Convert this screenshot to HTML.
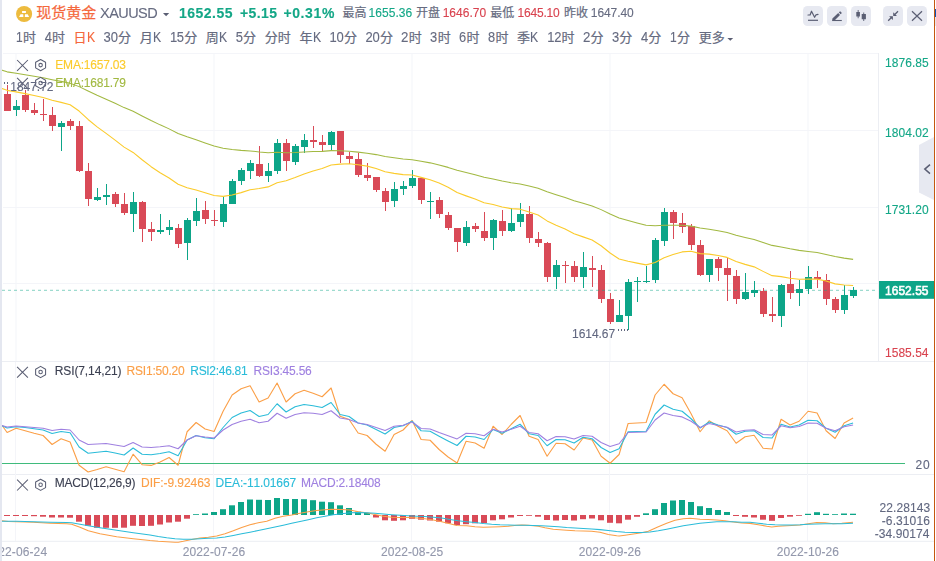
<!DOCTYPE html>
<html lang="zh"><head><meta charset="utf-8"><title>现货黄金 XAUUSD</title>
<style>
html,body{margin:0;padding:0;background:#fff}
body{width:936px;height:561px;position:relative;overflow:hidden;font-family:"Liberation Sans",sans-serif}
svg{position:absolute;left:0;top:0}
svg text{font-family:"Liberation Sans","Noto Sans CJK SC",sans-serif}
#lb{position:absolute;left:0;top:0;width:2px;height:561px;background:#e4e7f0}
#tx{position:absolute;left:0;top:0;width:936px;height:561px;will-change:transform}
.t{position:absolute;white-space:nowrap;line-height:1;display:block;font-kerning:none;-webkit-text-stroke:0.12px;transform:scaleY(1.065);transform-origin:0 10px}
</style></head><body>
<svg width="936" height="561" viewBox="0 0 936 561">
<rect x="3" y="53.0" width="876" height="1" fill="#f4f5f9"/>
<rect x="3" y="130.0" width="876" height="1" fill="#f4f5f9"/>
<rect x="3" y="207.0" width="876" height="1" fill="#f4f5f9"/>
<rect x="3" y="283.0" width="876" height="1" fill="#f4f5f9"/>
<rect x="2" y="361.0" width="932" height="1" fill="#eceef3"/>
<rect x="2" y="474.0" width="932" height="1" fill="#eceef3"/>
<rect x="2" y="540.8" width="932" height="1" fill="#eceef3"/>
<rect x="878" y="53" width="1" height="308" fill="#eceef3"/>
<rect x="15.5" y="54" width="1" height="307" fill="#f4f5f9"/>
<rect x="15" y="362" width="1" height="179" fill="#f4f5f9"/>
<rect x="213.5" y="54" width="1" height="307" fill="#f4f5f9"/>
<rect x="213" y="362" width="1" height="179" fill="#f4f5f9"/>
<rect x="411.5" y="54" width="1" height="307" fill="#f4f5f9"/>
<rect x="411" y="362" width="1" height="179" fill="#f4f5f9"/>
<rect x="609.5" y="54" width="1" height="307" fill="#f4f5f9"/>
<rect x="609" y="362" width="1" height="179" fill="#f4f5f9"/>
<rect x="807.5" y="54" width="1" height="307" fill="#f4f5f9"/>
<rect x="807" y="362" width="1" height="179" fill="#f4f5f9"/>
<g fill="#d94a57"><rect x="7" y="85" width="1" height="26"/><rect x="4" y="94" width="7" height="17"/><rect x="25" y="90" width="1" height="22"/><rect x="22" y="95" width="7" height="15"/><rect x="34" y="103" width="1" height="12"/><rect x="31" y="110" width="7" height="3"/><rect x="43" y="99" width="1" height="22"/><rect x="40" y="114" width="7" height="1"/><rect x="52" y="107" width="1" height="24"/><rect x="49" y="115" width="7" height="11"/><rect x="70" y="119" width="1" height="11"/><rect x="67" y="121" width="7" height="5"/><rect x="79" y="121" width="1" height="51"/><rect x="76" y="126" width="7" height="45"/><rect x="88" y="163" width="1" height="43"/><rect x="85" y="171" width="7" height="28"/><rect x="115" y="192" width="1" height="15"/><rect x="112" y="194" width="7" height="10"/><rect x="124" y="193" width="1" height="22"/><rect x="121" y="204" width="7" height="9"/><rect x="142" y="201" width="1" height="41"/><rect x="139" y="202" width="7" height="27"/><rect x="151" y="222" width="1" height="19"/><rect x="148" y="229" width="7" height="3"/><rect x="178" y="224" width="1" height="24"/><rect x="175" y="228" width="7" height="16"/><rect x="205" y="201" width="1" height="23"/><rect x="202" y="210" width="7" height="9"/><rect x="214" y="210" width="1" height="16"/><rect x="211" y="220" width="7" height="1"/><rect x="259" y="146" width="1" height="31"/><rect x="256" y="164" width="7" height="12"/><rect x="286" y="139" width="1" height="32"/><rect x="283" y="143" width="7" height="18"/><rect x="313" y="126" width="1" height="22"/><rect x="310" y="140" width="7" height="2"/><rect x="322" y="135" width="1" height="17"/><rect x="319" y="142" width="7" height="3"/><rect x="340" y="131" width="1" height="32"/><rect x="337" y="131" width="7" height="24"/><rect x="349" y="152" width="1" height="12"/><rect x="346" y="156" width="7" height="3"/><rect x="358" y="153" width="1" height="24"/><rect x="355" y="159" width="7" height="16"/><rect x="367" y="163" width="1" height="18"/><rect x="364" y="175" width="7" height="3"/><rect x="376" y="177" width="1" height="15"/><rect x="373" y="177" width="7" height="13"/><rect x="385" y="188" width="1" height="23"/><rect x="382" y="191" width="7" height="11"/><rect x="421" y="178" width="1" height="26"/><rect x="418" y="178" width="7" height="22"/><rect x="439" y="197" width="1" height="21"/><rect x="436" y="200" width="7" height="14"/><rect x="448" y="212" width="1" height="18"/><rect x="445" y="215" width="7" height="13"/><rect x="457" y="228" width="1" height="24"/><rect x="454" y="228" width="7" height="14"/><rect x="475" y="223" width="1" height="9"/><rect x="472" y="226" width="7" height="3"/><rect x="484" y="212" width="1" height="29"/><rect x="481" y="231" width="7" height="7"/><rect x="502" y="210" width="1" height="26"/><rect x="499" y="221" width="7" height="10"/><rect x="529" y="206" width="1" height="37"/><rect x="526" y="214" width="7" height="24"/><rect x="538" y="232" width="1" height="15"/><rect x="535" y="239" width="7" height="4"/><rect x="547" y="242" width="1" height="40"/><rect x="544" y="243" width="7" height="34"/><rect x="565" y="261" width="1" height="22"/><rect x="562" y="265" width="7" height="1"/><rect x="574" y="261" width="1" height="21"/><rect x="571" y="266" width="7" height="11"/><rect x="592" y="256" width="1" height="31"/><rect x="589" y="268" width="7" height="2"/><rect x="601" y="265" width="1" height="38"/><rect x="598" y="270" width="7" height="29"/><rect x="610" y="293" width="1" height="31"/><rect x="607" y="299" width="7" height="23"/><rect x="673" y="210" width="1" height="29"/><rect x="670" y="212" width="7" height="11"/><rect x="682" y="213" width="1" height="20"/><rect x="679" y="223" width="7" height="4"/><rect x="691" y="224" width="1" height="26"/><rect x="688" y="226" width="7" height="19"/><rect x="700" y="240" width="1" height="36"/><rect x="697" y="245" width="7" height="30"/><rect x="718" y="257" width="1" height="24"/><rect x="715" y="259" width="7" height="9"/><rect x="727" y="258" width="1" height="43"/><rect x="724" y="268" width="7" height="7"/><rect x="736" y="270" width="1" height="34"/><rect x="733" y="276" width="7" height="23"/><rect x="763" y="288" width="1" height="29"/><rect x="760" y="291" width="7" height="23"/><rect x="772" y="297" width="1" height="25"/><rect x="769" y="314" width="7" height="2"/><rect x="790" y="271" width="1" height="28"/><rect x="787" y="284" width="7" height="9"/><rect x="817" y="271" width="1" height="17"/><rect x="814" y="277" width="7" height="2"/><rect x="826" y="274" width="1" height="31"/><rect x="823" y="280" width="7" height="19"/><rect x="835" y="297" width="1" height="16"/><rect x="832" y="299" width="7" height="11"/></g>
<g fill="#0da588"><rect x="16" y="100" width="1" height="16"/><rect x="13" y="106" width="7" height="4"/><rect x="61" y="121" width="1" height="30"/><rect x="58" y="123" width="7" height="4"/><rect x="97" y="188" width="1" height="13"/><rect x="94" y="197" width="7" height="3"/><rect x="106" y="184" width="1" height="21"/><rect x="103" y="195" width="7" height="2"/><rect x="133" y="192" width="1" height="40"/><rect x="130" y="202" width="7" height="12"/><rect x="160" y="214" width="1" height="20"/><rect x="157" y="230" width="7" height="2"/><rect x="169" y="220" width="1" height="15"/><rect x="166" y="227" width="7" height="3"/><rect x="187" y="218" width="1" height="42"/><rect x="184" y="220" width="7" height="23"/><rect x="196" y="198" width="1" height="28"/><rect x="193" y="211" width="7" height="10"/><rect x="223" y="197" width="1" height="30"/><rect x="220" y="204" width="7" height="18"/><rect x="232" y="179" width="1" height="25"/><rect x="229" y="181" width="7" height="23"/><rect x="241" y="168" width="1" height="17"/><rect x="238" y="170" width="7" height="11"/><rect x="250" y="160" width="1" height="19"/><rect x="247" y="163" width="7" height="8"/><rect x="268" y="163" width="1" height="19"/><rect x="265" y="171" width="7" height="5"/><rect x="277" y="139" width="1" height="35"/><rect x="274" y="143" width="7" height="28"/><rect x="295" y="144" width="1" height="21"/><rect x="292" y="146" width="7" height="16"/><rect x="304" y="134" width="1" height="19"/><rect x="301" y="140" width="7" height="7"/><rect x="331" y="131" width="1" height="19"/><rect x="328" y="132" width="7" height="13"/><rect x="394" y="182" width="1" height="25"/><rect x="391" y="189" width="7" height="12"/><rect x="403" y="181" width="1" height="14"/><rect x="400" y="186" width="7" height="3"/><rect x="412" y="170" width="1" height="18"/><rect x="409" y="178" width="7" height="8"/><rect x="430" y="192" width="1" height="27"/><rect x="427" y="201" width="7" height="1"/><rect x="466" y="221" width="1" height="25"/><rect x="463" y="227" width="7" height="16"/><rect x="493" y="219" width="1" height="31"/><rect x="490" y="220" width="7" height="18"/><rect x="511" y="208" width="1" height="24"/><rect x="508" y="223" width="7" height="8"/><rect x="520" y="203" width="1" height="24"/><rect x="517" y="214" width="7" height="8"/><rect x="556" y="260" width="1" height="29"/><rect x="553" y="265" width="7" height="12"/><rect x="583" y="252" width="1" height="36"/><rect x="580" y="267" width="7" height="10"/><rect x="619" y="300" width="1" height="22"/><rect x="616" y="315" width="7" height="7"/><rect x="628" y="279" width="1" height="51"/><rect x="625" y="282" width="7" height="34"/><rect x="637" y="277" width="1" height="25"/><rect x="634" y="281" width="7" height="1"/><rect x="646" y="266" width="1" height="17"/><rect x="643" y="281" width="7" height="1"/><rect x="655" y="238" width="1" height="45"/><rect x="652" y="240" width="7" height="40"/><rect x="664" y="208" width="1" height="38"/><rect x="661" y="212" width="7" height="29"/><rect x="709" y="259" width="1" height="23"/><rect x="706" y="259" width="7" height="16"/><rect x="745" y="273" width="1" height="27"/><rect x="742" y="292" width="7" height="7"/><rect x="754" y="281" width="1" height="16"/><rect x="751" y="290" width="7" height="3"/><rect x="781" y="284" width="1" height="43"/><rect x="778" y="285" width="7" height="31"/><rect x="799" y="280" width="1" height="26"/><rect x="796" y="289" width="7" height="4"/><rect x="808" y="266" width="1" height="28"/><rect x="805" y="277" width="7" height="12"/><rect x="844" y="285" width="1" height="29"/><rect x="841" y="295" width="7" height="15"/><rect x="853" y="287" width="1" height="11"/><rect x="850" y="290" width="7" height="6"/></g>
<polyline points="-1.90,69.00 7.10,71.86 16.10,73.22 25.10,74.68 34.10,76.21 43.10,77.75 52.10,79.66 61.10,81.38 70.10,83.15 79.10,86.62 88.10,91.04 97.10,95.22 106.10,99.15 115.10,103.28 124.10,107.61 133.10,111.33 142.10,115.96 151.10,120.53 160.10,124.85 169.10,128.87 178.10,133.41 187.10,136.83 196.10,139.75 205.10,142.88 214.10,145.97 223.10,148.26 232.10,149.57 241.10,150.39 250.10,150.90 259.10,151.91 268.10,152.68 277.10,152.32 286.10,152.68 295.10,152.44 304.10,151.97 313.10,151.60 322.10,151.36 331.10,150.62 340.10,150.81 349.10,151.16 358.10,152.11 367.10,153.15 376.10,154.61 385.10,156.49 394.10,157.79 403.10,158.91 412.10,159.68 421.10,161.28 430.10,162.86 439.10,164.89 448.10,167.38 457.10,170.33 466.10,172.57 475.10,174.81 484.10,177.30 493.10,179.00 502.10,181.06 511.10,182.72 520.10,183.97 529.10,186.11 538.10,188.36 547.10,191.86 556.10,194.75 565.10,197.56 574.10,200.70 583.10,203.32 592.10,205.95 601.10,209.62 610.10,214.05 619.10,218.03 628.10,220.56 637.10,222.95 646.10,225.25 655.10,225.84 664.10,225.32 673.10,225.25 682.10,225.34 691.10,226.13 700.10,228.07 709.10,229.30 718.10,230.84 727.10,232.59 736.10,235.22 745.10,237.46 754.10,239.54 763.10,242.48 772.10,245.39 781.10,246.96 790.10,248.79 799.10,250.38 808.10,251.45 817.10,252.55 826.10,254.39 835.10,256.59 844.10,258.12 853.10,259.39" fill="none" stroke="#a2b942" stroke-width="1.05" stroke-linejoin="round" />
<polyline points="-1.90,87.30 7.10,90.35 16.10,91.88 25.10,93.65 34.10,95.53 43.10,97.42 52.10,100.19 61.10,102.40 70.10,104.69 79.10,111.04 88.10,119.46 97.10,126.88 106.10,133.41 115.10,140.17 124.10,147.15 133.10,152.41 142.10,159.75 151.10,166.67 160.10,172.74 169.10,177.95 178.10,184.28 187.10,187.72 196.10,189.98 205.10,192.78 214.10,195.51 223.10,196.36 232.10,194.94 241.10,192.60 250.10,189.82 259.10,188.54 268.10,186.91 277.10,182.77 286.10,180.74 295.10,177.47 304.10,173.94 313.10,170.94 322.10,168.51 331.10,165.07 340.10,164.15 349.10,163.70 358.10,164.82 367.10,166.11 376.10,168.43 385.10,171.67 394.10,173.36 403.10,174.60 412.10,174.96 421.10,177.39 430.10,179.68 439.10,182.99 448.10,187.31 457.10,192.56 466.10,195.88 475.10,199.08 484.10,202.82 493.10,204.50 502.10,207.06 511.10,208.62 520.10,209.17 529.10,211.96 538.10,214.95 547.10,220.90 556.10,225.14 565.10,229.07 574.10,233.68 583.10,236.89 592.10,240.09 601.10,245.74 610.10,253.04 619.10,258.98 628.10,261.21 637.10,263.14 646.10,264.88 655.10,262.55 664.10,257.77 673.10,254.50 682.10,251.92 691.10,251.30 700.10,253.60 709.10,254.16 718.10,255.51 727.10,257.41 736.10,261.41 745.10,264.36 754.10,266.85 763.10,271.38 772.10,275.67 781.10,276.60 790.10,278.20 799.10,279.27 808.10,279.09 817.10,279.12 826.10,281.06 835.10,283.85 844.10,284.95 853.10,285.47" fill="none" stroke="#fbcb2c" stroke-width="1.1" stroke-linejoin="round" />
<line x1="2" y1="290.3" x2="878" y2="290.3" stroke="#0da588" stroke-opacity="0.5" stroke-width="1" stroke-dasharray="3 3"/>
<line x1="4" y1="83" x2="9" y2="83" stroke="#626880" stroke-width="2" stroke-dasharray="1 2"/>
<line x1="618" y1="330" x2="628" y2="330" stroke="#626880" stroke-width="2" stroke-dasharray="1 2"/>
<rect x="879" y="281" width="55" height="17.8" fill="#0da588"/>
<line x1="2" y1="463.5" x2="905" y2="463.5" stroke="#3fbb7c" stroke-width="1.2"/>
<polyline points="2.00,425.30 7.10,432.50 16.10,428.30 25.10,430.70 34.10,433.30 43.10,435.50 52.10,444.50 61.10,438.80 70.10,442.00 79.10,465.30 88.10,472.00 97.10,469.50 106.10,466.70 115.10,469.20 124.10,471.70 133.10,454.20 142.10,464.70 151.10,465.40 160.10,462.00 169.10,457.50 178.10,465.25 187.10,431.75 196.10,422.50 205.10,429.00 214.10,431.50 223.10,411.25 232.10,395.00 241.10,388.75 250.10,385.75 259.10,402.00 268.10,398.00 277.10,383.00 286.10,402.00 295.10,393.75 304.10,390.25 313.10,393.25 322.10,396.75 331.10,388.00 340.10,416.25 349.10,419.50 358.10,433.00 367.10,435.50 376.10,444.25 385.10,451.25 394.10,434.50 403.10,430.00 412.10,420.50 421.10,439.50 430.10,440.25 439.10,449.50 448.10,457.00 457.10,463.00 466.10,441.25 475.10,443.00 484.10,448.25 493.10,426.25 502.10,434.50 511.10,424.50 520.10,415.50 529.10,436.25 538.10,439.50 547.10,456.25 556.10,443.25 565.10,443.75 574.10,450.00 583.10,438.00 592.10,440.00 601.10,456.25 610.10,463.25 619.10,454.50 628.10,423.50 637.10,423.00 646.10,422.50 655.10,395.00 664.10,384.25 673.10,393.75 682.10,397.75 691.10,413.75 700.10,431.75 709.10,420.75 718.10,426.25 727.10,430.75 736.10,443.25 745.10,436.75 754.10,435.25 763.10,448.25 772.10,449.00 781.10,419.25 790.10,425.00 799.10,421.25 808.10,411.25 817.10,413.00 826.10,430.75 835.10,438.50 844.10,423.00 853.10,418.00" fill="none" stroke="#fb9f47" stroke-width="1.1" stroke-linejoin="round" />
<polyline points="2.00,425.75 7.10,428.00 16.10,426.75 25.10,427.50 34.10,428.75 43.10,430.00 52.10,433.50 61.10,431.50 70.10,432.75 79.10,447.00 88.10,453.25 97.10,452.25 106.10,451.25 115.10,453.00 124.10,455.00 133.10,448.00 142.10,454.25 151.10,454.75 160.10,453.50 169.10,451.75 178.10,455.75 187.10,440.00 196.10,435.50 205.10,437.75 214.10,438.75 223.10,427.50 232.10,417.50 241.10,413.00 250.10,410.50 259.10,416.50 268.10,414.50 277.10,403.75 286.10,412.00 295.10,406.75 304.10,404.50 313.10,405.75 322.10,407.50 331.10,402.50 340.10,414.50 349.10,416.50 358.10,423.00 367.10,425.00 376.10,429.50 385.10,434.00 394.10,427.50 403.10,425.75 412.10,421.25 421.10,430.75 430.10,431.25 439.10,436.25 448.10,441.00 457.10,445.50 466.10,436.25 475.10,437.00 484.10,439.50 493.10,429.50 502.10,433.25 511.10,428.75 520.10,424.25 529.10,433.75 538.10,435.50 547.10,445.75 556.10,439.50 565.10,439.75 574.10,443.00 583.10,437.25 592.10,438.75 601.10,447.50 610.10,452.50 619.10,448.75 628.10,431.75 637.10,431.50 646.10,431.25 655.10,414.25 664.10,405.00 673.10,409.25 682.10,411.25 691.10,418.75 700.10,428.00 709.10,422.00 718.10,425.00 727.10,427.50 736.10,434.25 745.10,431.25 754.10,430.75 763.10,437.50 772.10,438.00 781.10,424.25 790.10,427.00 799.10,425.00 808.10,420.25 817.10,420.75 826.10,428.25 835.10,432.25 844.10,425.75 853.10,423.00" fill="none" stroke="#2bbcd9" stroke-width="1.1" stroke-linejoin="round" />
<polyline points="2.00,425.50 7.10,427.00 16.10,426.00 25.10,426.75 34.10,427.50 43.10,428.25 52.10,430.50 61.10,429.25 70.10,430.00 79.10,440.00 88.10,444.50 97.10,444.00 106.10,443.50 115.10,445.00 124.10,446.50 133.10,442.50 142.10,447.00 151.10,447.50 160.10,446.75 169.10,445.75 178.10,448.75 187.10,440.00 196.10,435.75 205.10,437.00 214.10,438.00 223.10,430.00 232.10,424.50 241.10,421.25 250.10,419.25 259.10,422.75 268.10,421.25 277.10,413.25 286.10,418.25 295.10,414.50 304.10,412.75 313.10,413.25 322.10,414.50 331.10,410.75 340.10,418.00 349.10,419.50 358.10,423.00 367.10,424.50 376.10,427.50 385.10,430.50 394.10,426.25 403.10,425.25 412.10,422.00 421.10,428.50 430.10,429.00 439.10,432.50 448.10,435.75 457.10,438.90 466.10,433.25 475.10,433.75 484.10,435.75 493.10,429.25 502.10,432.00 511.10,429.25 520.10,426.25 529.10,432.50 538.10,433.75 547.10,440.75 556.10,436.50 565.10,436.75 574.10,439.00 583.10,435.50 592.10,436.25 601.10,442.50 610.10,446.50 619.10,443.75 628.10,432.50 637.10,432.25 646.10,432.00 655.10,420.00 664.10,413.00 673.10,415.50 682.10,416.90 691.10,421.25 700.10,427.50 709.10,423.50 718.10,425.50 727.10,427.25 736.10,432.00 745.10,430.25 754.10,429.75 763.10,434.50 772.10,435.00 781.10,425.75 790.10,427.75 799.10,426.50 808.10,423.00 817.10,423.25 826.10,428.25 835.10,430.75 844.10,426.75 853.10,425.00" fill="none" stroke="#9f80e0" stroke-width="1.1" stroke-linejoin="round" />
<g fill="#d94a57"><rect x="4" y="515" width="6" height="1.0"/><rect x="13" y="515" width="6" height="1.0"/><rect x="22" y="515" width="6" height="1.0"/><rect x="31" y="515" width="6" height="1.2"/><rect x="40" y="515" width="6" height="1.7"/><rect x="49" y="515" width="6" height="2.5"/><rect x="58" y="515" width="6" height="2.5"/><rect x="67" y="515" width="6" height="2.7"/><rect x="76" y="515" width="6" height="6.7"/><rect x="85" y="515" width="6" height="10.8"/><rect x="94" y="515" width="6" height="12.8"/><rect x="103" y="515" width="6" height="12.8"/><rect x="112" y="515" width="6" height="12.8"/><rect x="121" y="515" width="6" height="12.7"/><rect x="130" y="515" width="6" height="10.8"/><rect x="139" y="515" width="6" height="11.0"/><rect x="148" y="515" width="6" height="10.8"/><rect x="157" y="515" width="6" height="9.5"/><rect x="166" y="515" width="6" height="7.5"/><rect x="175" y="515" width="6" height="6.7"/><rect x="184" y="515" width="6" height="3.7"/><rect x="373" y="515" width="6" height="2.5"/><rect x="382" y="515" width="6" height="5.3"/><rect x="391" y="515" width="6" height="5.8"/><rect x="400" y="515" width="6" height="5.3"/><rect x="409" y="515" width="6" height="3.8"/><rect x="418" y="515" width="6" height="4.7"/><rect x="427" y="515" width="6" height="5.5"/><rect x="436" y="515" width="6" height="6.7"/><rect x="445" y="515" width="6" height="8.3"/><rect x="454" y="515" width="6" height="10.0"/><rect x="463" y="515" width="6" height="9.2"/><rect x="472" y="515" width="6" height="8.3"/><rect x="481" y="515" width="6" height="8.0"/><rect x="490" y="515" width="6" height="5.3"/><rect x="499" y="515" width="6" height="4.3"/><rect x="508" y="515" width="6" height="2.5"/><rect x="517" y="515" width="6" height="1.0"/><rect x="526" y="515" width="6" height="0.8"/><rect x="535" y="515" width="6" height="1.7"/><rect x="544" y="515" width="6" height="5.0"/><rect x="553" y="515" width="6" height="5.5"/><rect x="562" y="515" width="6" height="5.0"/><rect x="571" y="515" width="6" height="5.5"/><rect x="580" y="515" width="6" height="4.2"/><rect x="589" y="515" width="6" height="3.5"/><rect x="598" y="515" width="6" height="5.3"/><rect x="607" y="515" width="6" height="7.8"/><rect x="616" y="515" width="6" height="8.3"/><rect x="625" y="515" width="6" height="4.7"/><rect x="634" y="515" width="6" height="1.8"/><rect x="733" y="515" width="6" height="1.0"/><rect x="742" y="515" width="6" height="1.8"/><rect x="751" y="515" width="6" height="2.5"/><rect x="760" y="515" width="6" height="4.7"/><rect x="769" y="515" width="6" height="5.8"/><rect x="778" y="515" width="6" height="3.0"/><rect x="787" y="515" width="6" height="1.7"/><rect x="796" y="515" width="6" height="0.8"/></g>
<g fill="#0da588"><rect x="193" y="514.2" width="6" height="0.8"/><rect x="202" y="513.5" width="6" height="1.5"/><rect x="211" y="512.0" width="6" height="3.0"/><rect x="220" y="509.2" width="6" height="5.8"/><rect x="229" y="505.3" width="6" height="9.7"/><rect x="238" y="502.0" width="6" height="13.0"/><rect x="247" y="499.5" width="6" height="15.5"/><rect x="256" y="499.8" width="6" height="15.2"/><rect x="265" y="500.0" width="6" height="15.0"/><rect x="274" y="498.0" width="6" height="17.0"/><rect x="283" y="499.0" width="6" height="16.0"/><rect x="292" y="499.0" width="6" height="16.0"/><rect x="301" y="499.2" width="6" height="15.8"/><rect x="310" y="500.2" width="6" height="14.8"/><rect x="319" y="501.7" width="6" height="13.3"/><rect x="328" y="502.2" width="6" height="12.8"/><rect x="337" y="505.3" width="6" height="9.7"/><rect x="346" y="508.0" width="6" height="7.0"/><rect x="355" y="511.7" width="6" height="3.3"/><rect x="364" y="513.0" width="6" height="2.0"/><rect x="643" y="513.3" width="6" height="1.7"/><rect x="652" y="509.2" width="6" height="5.8"/><rect x="661" y="503.0" width="6" height="12.0"/><rect x="670" y="500.5" width="6" height="14.5"/><rect x="679" y="500.0" width="6" height="15.0"/><rect x="688" y="502.0" width="6" height="13.0"/><rect x="697" y="506.2" width="6" height="8.8"/><rect x="706" y="508.0" width="6" height="7.0"/><rect x="715" y="510.0" width="6" height="5.0"/><rect x="724" y="512.0" width="6" height="3.0"/><rect x="805" y="513.8" width="6" height="1.2"/><rect x="814" y="512.2" width="6" height="2.8"/><rect x="823" y="513.8" width="6" height="1.2"/><rect x="832" y="514.2" width="6" height="0.8"/><rect x="841" y="513.5" width="6" height="1.5"/><rect x="850" y="513.7" width="6" height="1.3"/></g>
<polyline points="2.00,520.80 8.30,521.50 16.70,521.70 33.30,522.30 50.00,523.20 66.70,523.80 71.70,524.20 80.00,527.20 88.30,530.80 100.00,533.80 116.70,536.70 133.30,538.70 150.00,540.50 158.30,541.20 166.70,541.70 175.00,542.20 178.30,542.20 183.30,541.30 191.70,539.50 200.00,538.00 208.30,537.20 216.70,536.00 225.00,533.80 233.30,530.80 241.70,527.50 250.00,524.70 258.30,522.80 266.70,521.20 275.00,518.30 283.30,516.30 291.70,515.00 300.00,513.30 308.30,511.70 316.70,510.50 325.00,509.70 331.70,509.20 341.70,509.50 350.00,510.00 358.30,511.70 366.70,512.80 375.00,514.50 383.30,516.20 391.70,517.20 400.00,517.50 408.30,517.50 416.70,518.00 425.00,518.70 433.30,520.00 441.70,521.70 450.00,523.70 456.70,525.50 466.70,525.80 475.00,526.70 483.30,527.20 491.70,527.00 500.00,526.70 508.30,526.30 516.70,525.30 521.70,525.00 528.30,525.30 538.30,526.20 545.00,527.80 553.30,529.20 566.70,530.20 575.00,530.80 583.30,531.00 591.70,531.20 600.00,532.30 608.30,534.50 616.70,535.80 619.20,536.00 625.00,535.20 633.30,534.00 641.70,532.80 648.30,531.30 658.30,526.70 666.70,523.30 675.00,520.30 683.30,518.70 690.00,518.30 700.00,519.20 708.30,519.50 716.70,520.00 725.00,520.80 733.30,522.00 741.70,523.00 750.00,523.40 758.30,524.70 766.70,526.30 771.70,527.00 778.30,526.20 791.70,525.50 800.00,525.00 808.30,523.70 816.70,522.50 825.00,522.80 833.30,523.70 841.70,523.30 853.00,522.30" fill="none" stroke="#fb9f47" stroke-width="1.1" stroke-linejoin="round" />
<polyline points="2.00,521.20 16.70,521.30 33.30,521.80 50.00,522.20 66.70,522.50 71.70,522.80 80.00,524.20 88.30,525.80 100.00,527.80 116.70,530.30 133.30,532.70 150.00,535.00 158.30,536.50 166.70,537.80 175.00,538.80 183.30,539.30 191.70,539.20 200.00,538.70 208.30,538.30 216.70,538.00 225.00,537.00 233.30,535.50 241.70,533.80 250.00,532.20 258.30,530.50 266.70,528.80 275.00,527.00 283.30,525.20 291.70,523.30 300.00,521.50 308.30,519.70 316.70,517.80 325.00,516.20 333.30,514.70 341.70,513.70 350.00,512.80 358.30,512.50 366.70,512.80 375.00,513.30 383.30,514.00 391.70,514.70 400.00,515.30 408.30,515.80 416.70,516.20 425.00,516.50 433.30,517.20 441.70,518.00 450.00,519.50 458.30,520.80 466.70,521.70 475.00,522.50 483.30,523.50 491.70,524.20 500.00,524.70 508.30,525.00 516.70,525.20 525.00,525.30 533.30,525.50 541.70,525.80 550.00,526.30 558.30,526.80 566.70,527.50 575.00,528.00 583.30,528.50 591.70,529.00 600.00,529.60 608.30,530.50 616.70,531.50 625.00,532.20 633.30,532.50 641.70,532.50 650.00,532.00 658.30,530.80 666.70,529.20 675.00,527.50 683.30,525.80 691.70,524.50 700.00,523.30 708.30,522.50 716.70,521.80 725.00,521.70 733.30,521.80 741.70,522.20 750.00,522.30 758.30,523.30 766.70,524.20 775.00,524.70 783.30,525.00 791.70,525.00 800.00,524.80 808.30,524.30 816.70,524.00 825.00,523.70 833.30,523.70 841.70,523.70 853.00,523.30" fill="none" stroke="#2bbcd9" stroke-width="1.1" stroke-linejoin="round" />
<polygon points="934,137 919,145 919,192.5 934,200" fill="#e7e9f1"/>
<polyline points="930,164.6 924.8,169.1 930,173.6" fill="none" stroke="#5a5e73" stroke-width="1.5"/>
<rect x="934" y="0" width="1" height="561" fill="#c4570f"/>
<rect x="935" y="9" width="1" height="8" fill="#0f56b3"/><rect x="935" y="17" width="1" height="9" fill="#e3e5ea"/>
<path d="M17.1 60.0 l10.8 10.8 m0 -10.8 l-10.8 10.8" stroke="#5a5e73" stroke-width="1.05" fill="none"/>
<polygon points="40.60,70.70 35.62,67.90 35.62,62.30 40.60,59.50 45.58,62.30 45.58,67.90" fill="none" stroke="#5a5e73" stroke-width="1.05" stroke-linejoin="round"/>
<circle cx="40.6" cy="65.1" r="1.75" fill="none" stroke="#5a5e73" stroke-width="1.05"/>
<path d="M17.1 77.9 l10.8 10.8 m0 -10.8 l-10.8 10.8" stroke="#5a5e73" stroke-width="1.05" fill="none"/>
<polygon points="40.60,88.60 35.62,85.80 35.62,80.20 40.60,77.40 45.58,80.20 45.58,85.80" fill="none" stroke="#5a5e73" stroke-width="1.05" stroke-linejoin="round"/>
<circle cx="40.6" cy="83.0" r="1.75" fill="none" stroke="#5a5e73" stroke-width="1.05"/>
<path d="M17.1 366.9 l10.8 10.8 m0 -10.8 l-10.8 10.8" stroke="#5a5e73" stroke-width="1.05" fill="none"/>
<polygon points="40.60,377.60 35.62,374.80 35.62,369.20 40.60,366.40 45.58,369.20 45.58,374.80" fill="none" stroke="#5a5e73" stroke-width="1.05" stroke-linejoin="round"/>
<circle cx="40.6" cy="372.0" r="1.75" fill="none" stroke="#5a5e73" stroke-width="1.05"/>
<path d="M17.1 479.7 l10.8 10.8 m0 -10.8 l-10.8 10.8" stroke="#5a5e73" stroke-width="1.05" fill="none"/>
<polygon points="40.60,490.40 35.62,487.60 35.62,482.00 40.60,479.20 45.58,482.00 45.58,487.60" fill="none" stroke="#5a5e73" stroke-width="1.05" stroke-linejoin="round"/>
<circle cx="40.6" cy="484.8" r="1.75" fill="none" stroke="#5a5e73" stroke-width="1.05"/>
<circle cx="24.1" cy="14" r="8.05" fill="#edbb3e"/>
<path fill="#fff" d="M22.1 11h3.8v1.9h-3.8z M20.5 14.2h2.7l0.2 2.8h-4.3z M25 14.2h2.7l1.4 2.8h-4.3z"/>
<path d="M163 13 h6.2 l-3.1 3.2z" fill="#5a5e73"/>
<path d="M727.4 37.9 h5.8 l-2.9 2.9z" fill="#5a5e73"/>
<rect x="803" y="6" width="20" height="20" rx="4.5" fill="#e7e9f1"/>
<rect x="827" y="6" width="20" height="20" rx="4.5" fill="#e7e9f1"/>
<rect x="851" y="6" width="20" height="20" rx="4.5" fill="#e7e9f1"/>
<rect x="883" y="6" width="20" height="20" rx="4.5" fill="#e7e9f1"/>
<rect x="907" y="6" width="20" height="20" rx="4.5" fill="#e7e9f1"/>
<polyline points="808,15 810.1,15 811.5,11.2 814.6,17.3 816,14.8 818,14.3" fill="none" stroke="#5a5e73" stroke-width="1.2" stroke-linejoin="round" stroke-linecap="round"/>
<line x1="808" y1="20.3" x2="818" y2="20.3" stroke="#5a5e73" stroke-width="1.2"/>
<path d="M832.2 20.6 l0.2 -2 l5.8 -5.7 l1.8 2 l-5.5 5.6z M838.8 12.3 l1.4 -1.1 l1.7 1.8 l-1.3 1.2z" fill="#5a5e73"/>
<line x1="832.2" y1="20.5" x2="841.8" y2="20.5" stroke="#5a5e73" stroke-width="1.1"/>
<path fill="#5a5e73" d="M856.3 11.9h3.6v4.7h-3.6z M857.7 10h0.9v8.2h-0.9z M861.7 14h4.2v5.2h-4.2z M863.3 12.6h0.9v8.4h-0.9z"/>
<path fill="#5a5e73" d="M893.2 12.2v3.8h3.8z M892.9 20.1v-3.8h-3.8z"/>
<path stroke="#5a5e73" stroke-width="1.3" fill="none" d="M898 11.2l-3.5 3.5 M888.2 20.8l3.5 -3.5"/>
<path stroke="#5a5e73" stroke-width="1.2" fill="none" d="M912 11.2l10 9.6 M922 11.2l-10 9.6"/>
<text x="36.35" y="18.20" font-size="15" fill="#f5683d" stroke="#f5683d" stroke-width="0.2">现货黄金</text>
<text x="342.54" y="16.90" font-size="12" fill="#666b80" stroke="#666b80" stroke-width="0.2">最高</text>
<text x="415.98" y="16.90" font-size="12" fill="#666b80" stroke="#666b80" stroke-width="0.2">开盘</text>
<text x="490.14" y="16.90" font-size="12" fill="#666b80" stroke="#666b80" stroke-width="0.2">最低</text>
<text x="563.99" y="16.90" font-size="12" fill="#666b80" stroke="#666b80" stroke-width="0.2">昨收</text>
<g font-size="13" fill="#666b80" stroke="#666b80" stroke-width="0.2">
<text x="23.07" y="41.80">时</text>
<text x="51.93" y="41.80">时</text>
<text x="73.58" y="41.80" fill="#f5683d" stroke="#f5683d">日</text>
<text x="118.06" y="41.80">分</text>
<text x="139.71" y="41.80">月</text>
<text x="184.19" y="41.80">分</text>
<text x="205.84" y="41.80">周</text>
<text x="243.10" y="41.80">分</text>
<text x="264.75" y="41.80">分时</text>
<text x="299.40" y="41.80">年</text>
<text x="343.88" y="41.80">分</text>
<text x="379.96" y="41.80">分</text>
<text x="408.83" y="41.80">时</text>
<text x="437.69" y="41.80">时</text>
<text x="466.56" y="41.80">时</text>
<text x="495.42" y="41.80">时</text>
<text x="517.07" y="41.80">季</text>
<text x="561.55" y="41.80">时</text>
<text x="590.41" y="41.80">分</text>
<text x="619.28" y="41.80">分</text>
<text x="648.14" y="41.80">分</text>
<text x="677.01" y="41.80">分</text>
<text x="698.66" y="41.80">更多</text>
</g>
</svg>
<div id="tx">
<span class="t" style="left:16.07px;top:30.80px;font-size:13px;color:#666b80;transform:scale(0.932,1.065);transform-origin:0 11px;">1</span>
<span class="t" style="left:44.68px;top:30.80px;font-size:13px;color:#666b80;transform-origin:0 11px;">4</span>
<span class="t" style="left:86.89px;top:30.80px;font-size:13px;color:#f5683d;transform:scale(0.943,1.065);transform-origin:0 11px;">K</span>
<span class="t" style="left:103.51px;top:30.80px;font-size:13px;color:#666b80;letter-spacing:-0.041px;transform-origin:0 11px;">30</span>
<span class="t" style="left:153.02px;top:30.80px;font-size:13px;color:#666b80;transform:scale(0.943,1.065);transform-origin:0 11px;">K</span>
<span class="t" style="left:169.91px;top:30.80px;font-size:13px;color:#666b80;letter-spacing:-0.327px;transform-origin:0 11px;">15</span>
<span class="t" style="left:219.15px;top:30.80px;font-size:13px;color:#666b80;transform:scale(0.943,1.065);transform-origin:0 11px;">K</span>
<span class="t" style="left:235.72px;top:30.80px;font-size:13px;color:#666b80;transform-origin:0 11px;">5</span>
<span class="t" style="left:312.71px;top:30.80px;font-size:13px;color:#666b80;transform:scale(0.943,1.065);transform-origin:0 11px;">K</span>
<span class="t" style="left:329.60px;top:30.80px;font-size:13px;color:#666b80;letter-spacing:-0.313px;transform-origin:0 11px;">10</span>
<span class="t" style="left:365.40px;top:30.80px;font-size:13px;color:#666b80;letter-spacing:-0.025px;transform-origin:0 11px;">20</span>
<span class="t" style="left:401.46px;top:30.80px;font-size:13px;color:#666b80;transform:scale(1.021,1.065);transform-origin:0 11px;">2</span>
<span class="t" style="left:430.36px;top:30.80px;font-size:13px;color:#666b80;transform:scale(0.991,1.065);transform-origin:0 11px;">3</span>
<span class="t" style="left:459.42px;top:30.80px;font-size:13px;color:#666b80;transform:scale(0.988,1.065);transform-origin:0 11px;">6</span>
<span class="t" style="left:488.25px;top:30.80px;font-size:13px;color:#666b80;transform:scale(0.987,1.065);transform-origin:0 11px;">8</span>
<span class="t" style="left:530.38px;top:30.80px;font-size:13px;color:#666b80;transform:scale(0.943,1.065);transform-origin:0 11px;">K</span>
<span class="t" style="left:547.27px;top:30.80px;font-size:13px;color:#666b80;letter-spacing:-0.180px;transform-origin:0 11px;">12</span>
<span class="t" style="left:583.05px;top:30.80px;font-size:13px;color:#666b80;transform:scale(1.021,1.065);transform-origin:0 11px;">2</span>
<span class="t" style="left:611.95px;top:30.80px;font-size:13px;color:#666b80;transform:scale(0.991,1.065);transform-origin:0 11px;">3</span>
<span class="t" style="left:640.89px;top:30.80px;font-size:13px;color:#666b80;transform-origin:0 11px;">4</span>
<span class="t" style="left:670.01px;top:30.80px;font-size:13px;color:#666b80;transform:scale(0.932,1.065);transform-origin:0 11px;">1</span>
<span class="t" style="left:100.07px;top:5.80px;font-size:14.5px;color:#666b80;letter-spacing:-0.562px;transform-origin:0 12px;">XAUUSD</span>
<span class="t" style="left:178.92px;top:5.50px;font-size:14px;color:#14a787;font-weight:bold;letter-spacing:0.494px;transform-origin:0 12px;">1652.55</span>
<span class="t" style="left:239.91px;top:5.50px;font-size:14px;color:#14a787;font-weight:bold;letter-spacing:0.413px;transform-origin:0 12px;">+5.15</span>
<span class="t" style="left:283.41px;top:5.50px;font-size:14px;color:#14a787;font-weight:bold;letter-spacing:0.617px;transform-origin:0 12px;">+0.31%</span>
<span class="t" style="left:368.59px;top:6.90px;font-size:12px;color:#14a787;letter-spacing:0.044px;">1655.36</span>
<span class="t" style="left:442.69px;top:6.90px;font-size:12px;color:#d9434f;">1646.70</span>
<span class="t" style="left:517.49px;top:6.90px;font-size:12px;color:#d9434f;letter-spacing:-0.199px;">1645.10</span>
<span class="t" style="left:590.79px;top:6.90px;font-size:12px;color:#666b80;letter-spacing:-0.066px;">1647.40</span>
<span class="t" style="left:55.32px;top:58.80px;font-size:12px;color:#fbcb2c;letter-spacing:-0.210px;">EMA:1657.03</span>
<span class="t" style="left:55.32px;top:76.80px;font-size:12px;color:#a2b942;letter-spacing:-0.206px;">EMA:1681.79</span>
<span class="t" style="left:10.29px;top:80.80px;font-size:12px;color:#626880;letter-spacing:-0.027px;">1847.72</span>
<span class="t" style="left:572.09px;top:327.80px;font-size:12px;color:#626880;letter-spacing:-0.060px;">1614.67</span>
<span class="t" style="left:884.99px;top:56.70px;font-size:12px;color:#14a787;letter-spacing:0.057px;">1876.85</span>
<span class="t" style="left:884.99px;top:126.70px;font-size:12px;color:#14a787;letter-spacing:0.057px;">1804.02</span>
<span class="t" style="left:884.99px;top:203.70px;font-size:12px;color:#14a787;letter-spacing:0.034px;">1731.20</span>
<span class="t" style="left:884.99px;top:346.50px;font-size:12px;color:#d9434f;letter-spacing:0.031px;">1585.54</span>
<span class="t" style="left:885.09px;top:284.60px;font-size:12px;color:#fff;letter-spacing:0.007px;-webkit-text-stroke:0.55px #fff;">1652.55</span>
<span class="t" style="left:54.82px;top:364.90px;font-size:12px;color:#3c4052;letter-spacing:-0.123px;">RSI(7,14,21)</span>
<span class="t" style="left:126.52px;top:364.90px;font-size:12px;color:#fb9f47;letter-spacing:-0.204px;">RSI1:50.20</span>
<span class="t" style="left:190.27px;top:364.90px;font-size:12px;color:#2bbcd9;letter-spacing:-0.302px;">RSI2:46.81</span>
<span class="t" style="left:253.52px;top:364.90px;font-size:12px;color:#9f80e0;letter-spacing:-0.198px;">RSI3:45.56</span>
<span class="t" style="left:915.60px;top:458.50px;font-size:12px;color:#626880;letter-spacing:0.625px;">20</span>
<span class="t" style="left:54.82px;top:477.20px;font-size:12px;color:#3c4052;letter-spacing:-0.219px;">MACD(12,26,9)</span>
<span class="t" style="left:141.12px;top:477.20px;font-size:12px;color:#fb9f47;letter-spacing:-0.066px;">DIF:-9.92463</span>
<span class="t" style="left:215.62px;top:477.20px;font-size:12px;color:#2bbcd9;letter-spacing:-0.131px;">DEA:-11.01667</span>
<span class="t" style="left:301.02px;top:477.20px;font-size:12px;color:#9f80e0;letter-spacing:-0.212px;">MACD:2.18408</span>
<span class="t" style="left:879.60px;top:501.90px;font-size:12px;color:#626880;letter-spacing:0.069px;">22.28143</span>
<span class="t" style="left:881.77px;top:514.90px;font-size:12px;color:#626880;letter-spacing:0.098px;">-6.31016</span>
<span class="t" style="left:874.67px;top:527.90px;font-size:12px;color:#626880;letter-spacing:0.080px;">-34.90174</span>
<span class="t" style="left:-15.30px;top:545.60px;font-size:12px;color:#9398ac;letter-spacing:0.108px;">2022-06-24</span>
<span class="t" style="left:182.70px;top:545.60px;font-size:12px;color:#9398ac;letter-spacing:0.128px;">2022-07-26</span>
<span class="t" style="left:380.90px;top:545.60px;font-size:12px;color:#9398ac;letter-spacing:0.103px;">2022-08-25</span>
<span class="t" style="left:578.70px;top:545.60px;font-size:12px;color:#9398ac;letter-spacing:0.105px;">2022-09-26</span>
<span class="t" style="left:776.80px;top:545.60px;font-size:12px;color:#9398ac;letter-spacing:0.094px;">2022-10-26</span>
</div>
<div id="lb"></div>
</body></html>
